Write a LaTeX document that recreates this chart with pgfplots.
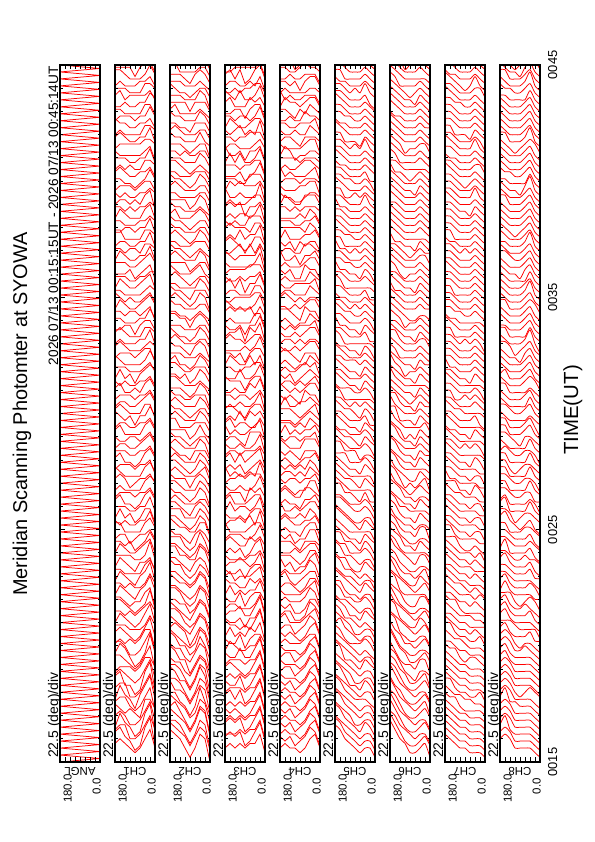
\documentclass[border=0pt]{standalone}
\usepackage{pgfplots}
\pgfplotsset{compat=1.18}
\usepackage{pgfplotstable}
\usepackage{fontspec}
\setmainfont{Liberation Sans}

\pgfplotsset{panel/.style={
  scale only axis, width=40bp, height=697bp, anchor=south west,
  xmin=0, xmax=180, x dir=reverse, ymin=15, ymax=45,
  xtick={0,22.5,45,67.5,90,112.5,135,157.5,180}, xticklabels={},
  ytick={15,25,35,45}, yticklabels={}, minor y tick num=9,
  tick align=inside, major tick length=4.5bp, minor tick length=2.5bp,
  every tick/.style={black, line width=0.9bp},
  axis line style={black, line width=1.6bp},
  axis on top, clip=true},
  tr/.style={red, line width=0.75bp, mark=none}}

% CH1
\pgfplotstableread[header=false]{
180   4 5 4 3 4  5 4 3 4 5  4 3 5 4 5  3 4 4 3 4  5 4 3 4 3  4 3 4 3 4  3 5 4 3 4  4 3 3 4 5  3 4 4 3 4  4 3 5 4 3  3 4 4 3 4  5 3 4 3 4  3 4 4 3 5  4 3 4 3 4  3 4 3 5 3  4 3 4 3 4  3 4 4 3 4  4 3 4 3 5  3 4 3 4 4  3 5 4 3 4
157.5 5 6 5 6 5  4 5 6 5 6  5 4 5 6 5  4 5 4 5 4  5 4 5 4 5  4 5 4 5 4  4 5 3 5 4  5 4 4 5 4  4 5 4 4 3  5 4 4 5 4  4 5 3 5 4  4 4 5 4 5  3 4 4 5 4  4 5 4 3 4  5 4 4 5 3  4 5 4 4 3  4 4 5 4 4  3 4 5 4 4  4 4 3 5 4  4 5 4 4 4
135   4 4 5 4 4  3 5 4 5 3  4 4 4 5 4  3 4 4 4 3  4 3 4 3 4  3 4 4 4 3  4 3 4 3 4  3 4 3 4 3  4 3 4 4 3  3 4 3 4 4  4 3 4 3 4  3 4 4 3 4  4 3 3 4 3  3 4 4 3 4  4 3 4 3 4  3 4 3 4 4  4 3 4 3 4  3 4 4 3 4  4 3 4 3 4  3 4 4 3 4
112.5 3 3 2 3 2  4 3 3 2 3  3 4 3 3 2  4 3 3 3 4  3 2 3 4 3  3 3 4 3 4  2 3 3 4 3  3 4 3 2 3  4 3 3 3 4  3 3 4 3 3  4 3 3 4 3  3 4 3 3 3  4 3 4 3 4  3 3 3 4 3  3 4 3 3 4  3 3 4 3 3  4 3 3 4 3  3 4 3 3 3  4 3 3 4 3  3 3 4 3 3
90    2 1 2 1 2  3 2 1 2 1  2 3 2 1 2  3 2 3 2 3  2 3 2 3 2  3 2 3 3 2  3 3 3 2 3  2 3 3 3 3  3 2 3 3 4  3 3 2 3 3  3 4 3 2 3  3 3 3 3 3  2 3 4 3 3  3 3 3 2 3  3 4 3 3 3  3 3 3 4 3  3 2 3 3 3  3 4 3 3 3  3 3 3 4 3  3 3 2 3 3
67.5  3 2 3 2 3  2 3 4 3 2  3 4 3 2 3  4 3 3 3 4  3 3 4 3 4  3 4 3 4 3  4 3 4 3 4  3 4 3 4 3  4 3 4 4 3  3 4 4 3 4  4 3 4 4 3  3 4 3 4 3  4 4 3 4 3  3 4 4 3 4  4 3 4 3 4  4 3 4 3 4  4 3 4 3 4  3 4 4 3 4  4 3 4 4 3  4 3 4 3 4
45    5 6 5 6 5  6 5 6 5 6  5 6 5 4 5  6 5 4 5 5  4 5 5 4 5  5 4 4 5 4  4 5 4 5 4  5 4 5 4 5  4 5 4 5 4  5 4 4 5 5  4 5 4 5 4  4 5 4 4 5  5 4 4 5 4  4 5 4 4 5  4 5 4 5 4  4 5 4 5 4  5 4 4 5 4  4 5 4 5 4  4 5 4 4 5  4 4 5 4 5
22.5  7 8 7 8 7  6 7 8 7 8  7 6 7 8 7  6 7 6 7 6  7 6 7 6 7  6 5 7 6 6  5 6 6 5 6  6 5 6 5 6  5 6 5 6 5  6 5 6 5 6  5 6 5 6 5  6 5 5 6 5  5 6 5 6 5  5 6 5 5 6  6 5 6 5 6  5 6 5 6 5  5 6 5 5 6  5 5 6 5 5  6 5 6 5 5  5 6 5 5 6
0     3 2 4 2 3  4 2 3 3 2  3 4 2 4 3  2 3 4 3 4  3 2 4 4 3  4 2 3 3 4  3 4 3 2 3  4 3 5 3 4  2 4 3 4 3  4 3 4 2 4  3 4 3 5 3  4 2 4 3 4  3 4 2 4 3  4 3 5 2 4  3 4 3 4 3  4 3 4 2 4  3 4 3 4 3  2 4 3 4 3  4 3 5 3 4  3 4 3 4 2
}\tA

% CH2
\pgfplotstableread[header=false]{
180   7 7 6 7 6  7 6 7 6 7  6 6 7 6 7  6 5 6 6 6  5 6 5 6 5  6 5 6 5 5  5 6 5 5 5  4 5 5 5 4  5 4 5 4 5  4 5 4 5 4  5 4 5 4 5  4 4 5 4 5  4 5 4 5 4  5 4 4 5 4  4 5 4 4 5  5 4 5 4 4  4 5 4 5 4  4 4 5 4 4  5 4 4 4 5  4 4 5 4 4
157.5 6 6 6 6 7  6 6 5 6 6  6 5 6 5 6  5 6 5 6 5  5 6 5 5 5  5 5 6 5 5  4 5 5 5 5  5 4 5 4 5  5 5 4 5 4  4 5 5 4 5  4 4 5 4 5  5 4 4 5 4  4 5 4 4 5  4 4 5 4 4  5 4 4 5 4  4 5 4 4 4  5 4 4 5 4  4 4 4 5 4  4 5 4 4 4  4 4 5 4 4
135   5 5 5 5 5  5 4 5 5 4  5 5 4 5 4  4 5 4 5 4  4 5 4 4 4  5 4 4 4 5  4 4 4 5 4  4 4 4 4 4  4 4 3 4 4  4 3 4 4 4  4 4 4 3 4  3 4 4 4 3  4 4 3 4 4  4 3 4 3 4  4 4 3 4 4  4 3 4 4 3  4 4 3 4 4  3 4 4 4 3  4 3 4 4 3  4 4 3 4 4
112.5 3 4 3 4 3  4 3 4 3 4  3 3 4 3 4  3 4 3 3 3  4 3 3 4 3  3 3 4 3 3  3 4 3 3 3  3 3 3 4 3  3 3 3 3 3  4 3 3 3 3  3 3 3 4 3  3 3 3 3 3  3 4 3 3 3  3 3 3 3 4  3 3 3 3 3  3 3 3 4 3  3 3 3 3 3  4 3 3 3 3  3 3 4 3 3  3 3 3 3 4
90    1 2 1 2 1  2 1 2 1 2  1 2 1 2 2  2 1 2 2 2  2 2 2 3 2  2 2 3 2 2  2 3 2 3 2  3 2 3 2 3  2 3 2 3 2  2 3 3 2 3  3 2 3 2 3  2 3 2 3 2  3 2 2 3 2  2 3 2 3 2  3 2 3 2 3  2 3 3 2 3  3 2 3 2 3  3 2 3 3 2  3 3 2 3 2  3 2 3 3 2
67.5  3 4 3 4 3  3 3 4 3 4  3 4 3 4 3  3 3 4 3 4  3 3 3 4 3  3 4 3 3 3  4 3 3 3 4  3 3 3 4 3  3 3 4 3 3  3 4 3 3 3  4 3 3 3 4  3 3 4 3 3  3 4 3 3 3  4 3 3 4 3  3 3 4 3 3  3 4 3 3 3  3 3 4 3 3  3 3 3 3 4  3 3 4 3 3  3 4 3 3 3
45    6 6 6 7 6  6 7 6 6 7  6 6 5 6 6  6 5 6 5 6  5 6 5 6 5  5 5 6 5 6  5 5 5 5 5  4 5 5 5 4  5 5 4 5 4  5 4 5 4 5  4 5 4 5 4  5 4 5 4 5  4 5 4 4 5  4 5 4 5 4  5 4 4 5 4  4 5 4 5 4  4 5 4 4 5  4 4 5 4 4  5 4 4 5 4  4 5 4 4 4
22.5  5 5 5 6 5  5 4 5 5 5  5 5 4 5 4  5 4 5 4 5  4 5 4 5 4  4 4 5 4 4  4 5 4 4 4  4 4 4 4 5  4 4 4 4 4  3 4 4 4 4  4 4 3 4 4  4 3 4 4 4  4 4 3 4 4  4 4 4 3 4  4 3 4 4 4  4 4 3 4 4  4 4 4 3 4  4 4 3 4 4  4 3 4 4 4  3 4 4 4 4
0     0 1 0 1 0  1 1 0 1 0  0 1 1 0 1  1 1 1 1 2  1 1 2 1 1  2 1 2 2 1  2 2 1 2 2  2 1 2 2 2  2 2 2 1 2  2 2 2 2 2  1 2 2 2 2  2 2 1 2 2  2 2 2 2 1  2 2 2 2 2  1 2 2 2 2  2 2 2 1 2  2 2 2 2 2  2 1 2 2 2  2 2 2 1 2  2 2 2 2 2
}\tB

% CH3
\pgfplotstableread[header=false]{
180   3 4 3 4 3  4 3 4 3 4  3 4 3 4 3  4 3 5 4 3  3 4 3 5 4  4 3 4 3 4  3 5 3 4 3  4 3 4 3 5  3 4 3 4 3  5 4 3 4 3  4 3 5 3 4  3 4 3 4 3  4 3 4 5 3  3 4 4 3 4  5 3 4 3 4  4 3 4 3 5  3 4 3 4 3  5 3 4 4 3  4 3 4 5 3  3 4 3 4 3
157.5 4 5 3 5 4  3 4 5 4 3  4 5 4 3 5  3 5 4 3 4  4 3 5 4 5  3 4 3 4 5  4 3 4 3 5  5 4 3 4 3  4 5 4 3 4  3 5 4 5 3  4 3 4 3 4  5 4 3 5 4  3 4 5 4 3  4 5 3 4 3  4 3 5 4 5  3 4 5 4 3  5 4 3 4 5  3 4 4 3 5  4 3 5 4 3  4 5 3 4 4
135   3 4 3 4 3  4 3 3 4 3  3 4 4 3 4  3 3 4 3 4  4 3 3 4 3  3 4 3 3 4  4 3 4 3 3  3 4 3 4 4  3 3 4 3 4  4 3 3 4 3  3 4 4 3 3  4 3 3 4 4  3 3 4 3 4  4 3 3 4 3  3 4 4 3 4  4 3 4 3 3  4 4 3 4 3  3 4 3 4 4  3 4 3 3 4  4 3 4 4 3
112.5 4 5 4 5 4  3 4 5 4 5  4 3 4 5 3  5 4 3 4 5  3 5 4 3 4  4 5 3 4 3  4 3 5 3 4  3 4 4 5 3  4 5 3 4 3  3 4 5 3 4  4 3 4 5 3  3 4 3 4 5  4 3 5 3 4  3 5 4 4 3  4 5 3 5 4  3 4 5 3 4  5 3 4 3 5  4 3 4 5 3  4 4 3 5 3  3 5 4 3 4
90    3 2 3 2 3  2 3 2 3 2  3 2 3 3 3  2 3 4 2 3  3 2 3 3 4  2 4 3 2 3  3 3 4 2 4  3 2 3 4 3  2 3 4 3 2  3 4 3 2 3  4 3 2 3 4  3 2 4 3 2  2 3 4 3 4  3 2 3 4 3  4 3 2 3 4  3 4 2 3 3  4 3 2 4 3  2 3 4 3 3  4 2 3 3 4  3 2 4 3 3
67.5  4 3 4 3 4  3 4 3 4 3  4 3 4 3 4  4 5 3 4 3  3 4 4 5 4  4 3 4 3 5  3 4 5 4 3  4 5 3 5 4  3 4 4 3 5  4 3 5 4 3  3 5 4 3 4  5 4 3 4 5  4 3 5 3 4  3 4 4 5 3  4 5 3 4 3  5 3 4 4 3  4 5 3 4 3  4 3 5 4 4  3 4 5 3 4  4 3 4 5 3
45    4 5 4 5 4  5 4 5 4 5  4 5 4 5 4  5 4 5 4 5  4 5 4 4 5  5 4 4 5 4  4 5 3 5 4  5 4 4 5 3  4 5 4 4 5  5 3 4 5 4  4 4 5 4 5  3 5 4 5 4  4 5 3 4 5  5 4 4 5 4  4 3 5 4 5  5 4 4 5 3  4 5 4 5 4  4 4 5 3 5  4 5 4 4 5  3 5 4 4 5
22.5  6 7 6 7 6  7 6 7 6 7  6 7 6 7 6  5 6 7 6 7  6 5 6 5 6  5 6 5 6 5  6 5 6 5 6  5 5 6 5 6  5 6 5 6 5  6 5 5 5 6  5 6 5 6 5  5 5 6 5 6  6 5 5 6 5  5 6 5 5 6  6 5 5 6 5  5 6 5 5 6  5 5 6 5 6  5 5 5 6 5  6 5 5 6 5  5 6 5 5 5
0     2 3 2 3 2  3 2 3 2 3  2 3 2 3 2  3 2 3 2 3  2 3 3 3 2  3 2 3 2 3  3 3 2 3 2  2 3 3 3 3  3 2 3 2 3  2 3 3 3 2  3 3 2 3 3  2 3 3 3 2  3 2 3 3 3  3 3 2 3 2  2 3 3 2 3  3 2 3 3 2  3 3 3 2 3  2 3 3 2 3  3 2 3 3 3  2 3 2 3 3
}\tC

% CH4
\pgfplotstableread[header=false]{
180   3 4 3 4 3  4 3 4 3 4  4 3 4 3 4  3 4 3 4 3  4 3 4 3 4  3 5 4 3 4  4 3 4 3 5  3 4 3 4 3  4 3 4 5 4  3 4 3 4 3  4 5 3 4 3  3 4 4 3 4  4 3 5 3 4  3 4 3 4 3  5 3 4 3 4  4 3 4 3 4  4 3 5 3 4  3 4 3 4 4  3 4 3 5 3  4 3 4 4 3
157.5 4 3 4 3 4  3 4 3 4 3  3 4 3 4 3  4 3 4 5 4  3 4 3 4 5  4 3 4 3 4  3 4 5 4 3  4 5 4 3 4  3 4 3 4 3  5 4 3 4 5  3 4 4 3 4  4 5 3 4 3  3 4 5 3 5  4 3 4 3 4  3 4 3 5 4  4 3 4 5 3  3 4 3 4 4  5 3 4 3 4  3 4 5 3 4  4 3 4 3 5
135   3 4 3 4 3  4 3 4 3 4  3 4 3 4 3  3 4 4 3 4  4 3 3 4 3  3 4 4 3 4  4 3 4 3 3  3 4 3 4 4  4 3 4 3 4  3 4 3 4 3  4 3 4 4 3  3 4 3 4 3  4 3 4 3 4  4 3 3 4 3  3 4 4 3 4  4 3 3 4 3  3 4 4 3 4  4 3 4 3 3  4 3 4 4 3  3 4 3 4 4
112.5 3 2 3 2 3  2 3 2 3 2  3 2 3 2 3  3 3 2 3 2  2 3 3 3 2  3 2 3 4 3  2 3 3 3 4  3 3 2 4 3  3 2 3 3 4  4 3 2 3 3  3 4 3 2 3  2 3 4 3 4  3 2 3 4 3  3 4 3 2 3  4 3 2 3 4  3 3 4 3 2  3 4 3 3 4  2 3 3 4 3  3 2 4 3 3  4 3 3 2 3
90    2 3 2 3 2  3 2 3 2 3  2 3 2 3 2  3 2 3 3 2  2 3 3 2 3  3 3 2 3 2  3 2 3 4 3  2 3 3 3 4  4 3 2 3 3  3 4 3 2 4  2 3 4 3 4  3 2 3 4 3  4 3 2 3 4  3 4 3 2 3  2 3 4 3 4  3 4 3 3 2  4 3 3 4 3  3 3 2 3 4  3 4 3 3 3  2 3 4 3 3
67.5  3 4 3 4 3  4 3 4 3 4  3 4 3 4 3  4 3 4 4 3  3 4 4 3 4  4 3 3 4 4  3 4 4 3 4  4 5 3 4 3  3 4 4 5 4  4 3 4 3 4  5 4 3 4 5  3 4 4 3 4  4 3 5 4 3  3 4 3 5 4  4 5 3 4 3  4 3 4 5 3  4 4 3 5 4  3 4 4 3 4  5 3 4 4 3  4 4 5 3 4
45    5 6 5 6 5  6 5 6 5 6  5 6 5 6 5  5 5 6 5 6  5 6 5 5 5  6 5 5 5 4  5 5 4 5 5  4 5 5 4 5  5 4 4 5 4  4 5 5 4 5  4 5 4 5 4  5 4 5 4 5  4 5 4 5 4  5 4 5 4 5  4 5 4 4 5  4 5 4 5 4  5 4 4 5 4  4 5 4 5 4  4 5 5 4 4  5 4 4 5 4
22.5  6 5 6 5 6  5 6 5 6 5  6 5 6 5 6  5 6 5 6 5  5 5 6 5 5  5 6 5 5 4  5 5 5 4 5  5 4 5 5 4  4 5 4 5 5  5 4 4 5 4  4 5 5 4 5  4 4 5 4 5  5 4 4 5 4  4 5 4 4 5  5 4 4 5 4  5 4 4 5 4  5 4 5 4 4  4 5 4 4 5  4 4 5 4 4  5 4 4 4 5
0     3 2 3 2 3  2 3 2 3 2  3 2 3 2 3  2 3 2 3 3  3 2 2 3 2  2 3 3 3 3  2 2 3 2 3  3 3 2 3 3  2 3 2 3 2  3 3 3 2 3  2 3 3 3 2  3 2 3 3 3  2 3 2 3 3  3 2 3 2 3  3 3 2 3 2  3 2 3 3 3  2 3 2 3 3  3 2 3 3 2  3 3 3 2 3  3 2 3 3 2
}\tD

% CH5
\pgfplotstableread[header=false]{
180   8 8 7 8 7  8 7 8 7 8  7 7 8 7 7  7 6 7 7 7  6 7 6 7 6  7 6 7 6 6  6 6 7 6 6  5 6 6 6 6  6 5 6 6 6  5 6 5 6 5  6 5 6 5 6  5 6 5 6 5  6 5 6 5 5  5 6 5 6 5  5 6 5 5 6  5 5 6 5 5  6 5 5 5 6  5 5 5 6 5  5 5 6 5 5  5 5 5 6 5
157.5 7 7 6 7 6  7 6 7 6 7  6 6 7 6 6  6 7 6 6 6  5 6 6 6 5  6 5 6 5 6  5 5 6 5 6  5 6 5 5 5  5 5 6 5 5  4 5 5 5 5  5 4 5 5 5  5 5 4 5 5  4 5 5 5 4  5 5 5 4 5  5 4 5 5 5  5 5 4 5 5  5 5 5 4 5  5 5 5 5 4  5 5 5 5 5  4 5 5 5 5
135   5 5 5 5 5  5 5 5 5 5  5 5 4 5 5  4 5 5 4 5  5 4 4 5 4  4 5 4 5 4  4 4 5 4 5  4 4 4 4 4  4 5 4 4 4  4 4 4 4 4  3 4 4 4 4  4 4 4 3 4  4 4 4 4 4  4 3 4 4 4  4 4 3 4 4  4 4 4 4 3  4 4 4 4 4  4 4 3 4 4  4 4 4 4 4  4 3 4 4 4
112.5 4 4 4 4 4  4 4 4 4 3  4 4 4 4 4  3 4 4 4 3  4 4 3 4 4  4 3 4 3 4  3 3 4 3 4  3 4 3 4 3  3 3 4 3 4  3 3 3 4 3  3 4 3 3 3  4 3 3 3 3  3 3 4 3 3  3 3 3 3 4  3 3 3 4 3  3 3 3 3 3  3 4 3 3 3  3 3 3 3 3  4 3 3 3 3  3 3 3 3 4
90    3 3 3 3 2  3 3 3 3 3  2 3 3 3 3  3 3 2 3 3  3 3 3 3 3  3 2 3 3 3  3 3 3 2 3  3 3 3 3 3  3 3 4 3 3  3 3 3 3 4  3 3 3 3 3  4 3 3 3 3  3 3 3 4 3  3 3 3 3 3  3 4 3 3 3  3 3 3 3 4  3 3 3 3 3  3 4 3 3 3  3 3 3 3 4  3 3 3 3 3
67.5  2 2 2 2 2  2 2 3 2 2  2 2 2 2 2  3 2 2 2 2  2 3 2 2 2  2 2 2 3 2  2 3 2 2 3  3 2 3 2 3  2 3 2 3 2  3 2 3 2 3  3 3 2 3 2  3 3 2 3 3  2 3 3 3 3  3 3 3 2 3  3 3 3 3 3  3 3 3 3 3  3 3 3 3 3  3 3 2 3 3  3 3 3 3 3  3 3 3 3 3
45    3 3 3 4 3  3 3 3 3 4  3 3 4 3 3  4 3 3 3 4  3 4 3 4 3  3 4 3 4 4  4 3 4 3 4  4 4 3 4 3  4 4 3 4 4  4 4 4 4 4  3 4 4 4 4  4 4 4 3 4  4 4 4 4 4  4 3 4 4 4  4 4 4 4 4  4 4 4 5 4  4 4 4 4 4  4 5 4 4 4  4 4 4 4 5  4 4 4 4 4
22.5  3 3 3 3 3  3 3 2 3 3  3 3 3 3 2  3 3 3 2 3  3 3 3 3 3  2 3 3 3 3  3 3 3 3 3  3 2 3 3 3  3 3 3 3 3  3 3 2 3 3  3 3 3 3 3  3 3 3 3 2  3 3 3 3 3  2 3 3 3 3  3 3 3 3 3  3 3 3 3 3  3 3 2 3 3  3 3 3 3 3  3 3 3 2 3  3 3 3 3 3
0     1 1 1 1 1  1 1 1 1 1  1 1 2 1 1  1 1 1 1 2  1 1 1 2 1  1 2 1 1 1  2 1 2 1 1  1 2 1 2 1  2 1 2 1 2  1 2 2 1 2  2 1 2 2 2  2 2 1 2 2  2 1 2 2 2  2 2 2 1 2  2 2 2 2 2  2 2 2 2 2  2 1 2 2 2  2 2 2 2 2  2 2 2 1 2  2 2 2 2 2
}\tE

% CH6
\pgfplotstableread[header=false]{
180   9 9 8 9 9  8 9 8 9 8  8 8 8 9 8  8 8 7 8 8  8 7 8 7 8  7 7 8 7 7  7 7 7 7 7  6 7 7 7 7  7 6 7 6 7  6 7 6 7 6  6 6 7 6 7  6 6 6 6 6  5 6 6 6 6  6 6 5 6 6  6 5 6 6 6  6 6 5 6 6  6 6 6 5 6  6 6 6 6 6  5 6 6 6 6  6 6 5 6 6
157.5 7 7 7 7 7  7 7 6 7 7  7 7 6 7 6  6 7 6 7 6  6 6 7 6 6  6 6 6 6 6  6 6 5 6 6  5 6 5 6 5  6 5 6 5 6  5 5 6 5 6  5 5 5 5 5  5 5 5 6 5  5 5 5 5 5  4 5 5 5 5  5 5 4 5 5  5 5 5 5 5  5 5 4 5 5  5 5 5 5 5  4 5 5 5 5  5 5 5 4 5
135   5 5 5 5 5  5 5 5 5 5  5 5 4 5 4  5 4 5 4 5  4 5 4 5 4  4 4 5 4 5  4 4 4 4 4  4 5 4 4 4  4 4 4 4 4  4 4 3 4 4  4 4 4 4 4  4 3 4 4 4  4 4 4 4 4  4 4 4 3 4  4 4 4 4 4  4 4 4 4 4  4 4 4 4 3  4 4 4 4 4  4 4 4 4 4  3 4 4 4 4
112.5 4 3 4 3 4  3 4 3 4 3  4 3 3 4 3  3 3 4 3 4  3 3 3 4 3  3 3 4 3 3  3 3 3 3 4  3 3 3 2 3  3 3 3 3 3  2 3 3 3 3  3 3 3 3 2  3 3 3 3 3  3 2 3 3 3  3 3 3 2 3  3 3 3 3 3  3 3 3 3 3  3 3 3 3 3  3 2 3 3 3  3 3 3 3 3  3 3 3 2 3
90    2 2 3 2 3  2 3 2 3 2  2 2 3 2 2  3 2 3 2 3  2 2 3 3 2  3 2 3 3 3  2 3 3 3 3  3 3 2 3 2  3 3 3 3 3  3 3 3 3 3  2 3 3 3 3  3 3 3 3 3  3 3 2 3 3  3 3 3 3 3  3 2 3 3 3  3 3 3 3 3  3 3 2 3 3  3 3 3 3 3  3 3 3 3 2  3 3 3 3 3
67.5  2 2 2 2 2  2 2 2 2 2  2 1 2 2 2  2 2 2 2 2  2 2 3 2 2  2 2 2 3 2  2 2 2 2 3  2 2 3 2 2  3 2 2 3 2  2 3 2 3 2  3 2 3 2 3  2 3 3 3 2  3 3 2 3 3  3 2 3 3 3  3 3 2 3 3  3 3 3 3 3  2 3 3 3 3  3 3 3 3 3  3 3 3 2 3  3 3 3 3 3
45    3 3 3 3 3  3 3 3 3 3  3 3 4 3 3  3 3 3 4 3  3 4 3 3 4  3 3 4 3 4  3 4 3 4 3  4 3 4 3 4  3 4 4 4 4  4 3 4 4 4  4 4 3 4 4  4 4 4 4 4  4 4 3 4 4  4 4 4 4 4  4 4 4 3 4  4 4 4 4 4  4 4 4 3 4  4 4 4 4 4  4 4 4 4 4  4 3 4 4 4
22.5  4 4 3 4 3  4 4 4 3 4  4 3 4 4 3  4 3 4 3 4  3 4 3 4 3  4 3 4 3 3  3 4 3 3 3  3 3 3 4 3  3 3 3 3 3  3 4 3 3 3  3 3 3 3 3  3 3 3 4 3  3 3 3 3 3  3 3 3 3 3  4 3 3 3 3  3 3 3 3 3  3 3 3 3 3  3 4 3 3 3  3 3 3 3 3  3 3 3 3 4
0     1 2 1 2 1  2 1 2 1 2  1 2 1 2 2  2 1 2 1 2  2 2 1 2 2  1 2 2 2 2  2 1 2 2 2  2 2 2 1 2  2 2 3 2 2  2 2 2 2 3  2 2 2 2 2  3 2 2 2 2  2 2 2 3 2  2 2 2 2 2  2 3 2 2 2  2 2 2 2 2  2 2 2 2 2  2 2 2 2 3  2 2 2 2 2  2 2 2 2 2
}\tF

% CH7
\pgfplotstableread[header=false]{
180   6 6 6 6 6  6 6 6 6 6  6 6 6 6 5  6 6 6 5 6  6 5 6 6 6  5 6 6 6 5  6 6 5 6 6  5 6 5 6 5  6 5 6 5 6  5 6 5 6 5  5 5 6 5 6  5 5 5 5 5  6 5 5 5 5  5 5 5 6 5  5 5 5 5 5  5 5 5 6 5  5 5 6 5 5  5 6 5 5 5  5 5 5 6 5  6 5 5 5 5
157.5 5 5 5 5 5  5 5 5 6 5  5 5 5 5 5  5 6 5 5 5  5 5 5 5 5  5 5 5 5 5  6 5 5 5 5  5 5 5 4 5  5 5 5 5 5  4 5 5 5 5  5 5 5 5 4  5 5 5 5 5  5 4 5 5 5  5 5 5 5 5  5 5 4 5 5  5 5 5 5 5  5 5 5 5 4  5 5 5 5 5  5 5 5 5 5  5 4 5 5 5
135   4 4 4 4 4  4 5 4 4 4  4 4 4 5 4  4 4 4 4 4  5 4 4 4 4  4 4 4 4 5  4 4 4 4 4  4 4 5 4 4  4 4 4 4 4  4 4 4 4 4  3 4 4 4 4  4 4 4 4 3  4 4 4 4 4  3 4 4 4 4  4 4 4 3 4  4 4 4 4 4  4 4 4 4 4  4 4 4 3 4  4 4 4 4 4  4 4 4 4 4
112.5 3 3 3 3 3  3 3 4 3 3  3 3 3 3 3  4 3 3 3 3  3 3 3 4 3  3 3 3 3 3  3 3 3 3 3  3 4 3 3 3  3 3 3 3 3  3 3 3 4 3  3 3 3 3 3  3 3 3 3 3  3 3 4 3 3  3 3 3 3 3  3 3 3 3 3  3 3 3 3 3  3 3 3 3 3  3 3 3 3 3  3 3 4 3 3  3 3 3 3 3
90    3 3 3 3 3  3 2 3 3 3  3 3 3 2 3  3 3 3 3 3  2 3 3 3 3  3 3 3 3 2  3 3 3 3 3  3 3 3 3 3  3 3 3 4 3  3 3 3 3 3  4 3 3 3 3  3 3 3 4 3  3 3 3 3 3  3 3 3 3 3  3 4 3 3 3  3 3 3 3 3  3 2 3 3 3  3 3 3 3 3  3 3 3 3 3  2 3 3 3 3
67.5  2 2 2 2 2  2 2 3 2 2  2 2 2 3 2  2 2 2 2 3  2 2 3 2 2  2 3 2 3 2  3 2 3 2 3  2 3 2 3 2  3 2 3 3 3  2 3 3 3 3  3 3 3 2 3  3 3 3 3 3  3 3 3 3 3  3 3 3 3 3  3 3 3 3 3  3 3 2 3 3  3 3 3 3 3  3 3 3 2 3  3 3 3 3 3  3 3 3 3 2
45    2 2 2 2 2  2 2 2 2 2  2 2 2 3 2  2 2 3 2 2  2 3 2 3 2  3 2 3 2 3  3 3 3 3 3  3 3 4 3 3  3 4 3 4 3  4 3 4 3 4  4 4 3 4 4  4 4 4 4 4  4 3 4 4 4  4 4 4 4 4  4 4 4 4 4  4 4 4 4 5  4 4 4 4 4  4 5 4 4 4  4 4 4 4 4  5 4 4 4 4
22.5  2 2 2 2 2  2 2 2 3 2  2 2 2 2 2  2 3 2 2 2  2 2 3 2 2  2 2 2 3 2  2 3 2 3 2  3 2 3 2 3  2 3 3 3 3  3 3 2 3 3  3 3 3 3 3  3 3 3 3 3  3 3 3 3 3  3 3 3 3 3  3 3 3 3 3  3 3 3 3 3  3 3 3 4 3  3 3 3 3 3  3 3 3 3 4  3 3 3 3 3
0     1 1 1 1 1  1 1 1 1 1  1 1 1 1 1  1 1 1 2 1  1 1 2 1 1  1 2 1 1 1  2 1 2 1 2  1 2 1 2 1  2 1 2 1 2  2 2 1 2 2  2 1 2 2 2  2 2 2 1 2  2 2 2 2 2  2 2 2 2 2  2 2 2 2 2  2 2 2 2 2  2 2 2 2 2  2 2 1 2 2  2 2 2 2 2  2 2 2 2 2
}\tG

% CH8
\pgfplotstableread[header=false]{
180   5 5 5 5 5  5 5 5 5 5  5 5 5 5 5  5 5 5 5 5  5 5 4 5 5  5 5 5 4 5  5 5 5 5 5  4 5 5 5 5  5 5 4 5 5  5 5 5 5 5  5 5 5 4 5  5 5 5 5 5  4 5 5 5 5  5 5 5 5 5  5 5 4 5 5  5 5 5 5 5  5 4 5 5 5  5 5 5 5 5  5 5 5 4 5  5 5 5 5 5
157.5 6 6 7 6 6  6 7 6 6 6  6 6 6 6 6  6 6 5 6 6  6 5 6 6 5  5 6 5 6 5  5 5 6 5 6  5 5 5 5 5  5 5 5 4 5  5 5 4 5 4  4 5 4 5 4  4 4 5 4 5  4 4 4 5 4  4 4 4 4 4  5 4 4 4 4  4 4 4 5 4  4 4 4 4 4  4 4 5 4 4  4 4 4 4 4  4 5 4 4 4
135   5 5 4 5 5  5 4 5 5 5  5 5 4 4 5  5 4 5 4 4  4 5 4 4 4  4 4 4 3 4  4 3 4 4 3  3 4 3 4 3  3 3 4 3 4  3 3 3 4 3  3 3 3 3 3  3 3 4 3 3  3 3 3 3 3  3 3 3 3 3  4 3 3 3 3  3 3 3 3 3  3 3 4 3 3  3 3 3 3 3  3 3 3 3 4  3 3 3 3 3
112.5 3 3 3 3 3  3 4 3 3 3  3 3 3 3 3  3 3 4 3 3  3 3 3 3 3  3 3 3 3 3  3 3 3 2 3  3 3 3 3 3  2 3 3 3 3  3 3 3 3 3  3 3 3 3 3  3 3 2 3 3  3 3 3 3 3  3 3 3 3 3  3 3 3 3 2  3 3 3 3 3  3 3 3 3 3  3 2 3 3 3  3 3 3 3 3  3 3 3 2 3
90    3 3 3 3 3  3 3 3 2 3  3 3 3 3 3  2 3 3 3 3  3 2 3 3 3  3 3 3 3 3  3 3 2 3 3  3 3 3 3 3  3 3 3 3 2  3 3 3 3 3  3 3 3 3 3  3 2 3 3 3  3 3 3 3 3  3 3 3 2 3  3 3 3 3 3  3 3 3 3 3  2 3 3 3 3  3 3 3 3 3  3 3 3 3 3  3 3 2 3 3
67.5  3 3 3 3 3  3 3 3 3 3  3 3 3 3 4  3 3 3 3 3  4 3 3 3 3  3 3 4 3 3  3 4 3 4 3  3 4 3 4 3  4 3 4 3 4  4 4 3 4 3  4 3 4 4 4  4 4 4 4 3  4 4 4 4 4  4 4 3 4 4  4 4 4 4 4  4 4 4 4 4  4 3 4 4 4  4 4 4 4 4  4 4 4 3 4  4 4 4 4 4
45    3 3 3 3 3  3 3 3 4 3  3 3 3 3 3  3 4 3 3 4  3 4 3 4 3  4 4 3 4 4  4 4 4 4 5  4 4 5 4 5  4 5 4 5 4  5 5 4 5 5  5 4 5 5 5  5 5 5 6 5  5 5 5 5 5  6 5 5 5 5  5 5 6 5 5  5 5 5 5 5  6 5 5 5 5  5 5 6 5 5  5 5 5 5 5  6 5 5 5 5
22.5  2 2 2 2 2  2 2 2 3 2  2 2 2 2 2  2 2 3 2 2  2 3 2 3 2  2 2 3 2 3  2 3 2 3 3  3 2 3 3 3  3 3 3 3 3  3 3 3 3 3  3 3 4 3 3  3 3 3 3 3  3 3 3 4 3  3 3 3 3 3  3 3 3 3 3  3 3 3 3 3  3 3 3 3 3  3 4 3 3 3  3 3 3 3 3  3 3 3 4 3
0     1 1 1 1 1  1 1 1 2 1  1 1 1 1 1  1 2 1 1 1  1 1 2 1 1  2 1 2 1 2  1 2 1 2 2  1 2 2 1 2  2 2 1 2 2  2 1 2 2 2  2 2 2 2 2  2 2 2 1 2  2 2 2 2 2  2 2 2 2 2  2 2 2 2 2  2 2 2 2 2  2 2 2 2 2  2 2 2 2 2  2 2 2 2 2  2 2 2 2 2
}\tH

\newcommand\chpanel[3]{%
  \begin{axis}[panel, at={(#1bp,80bp)}]
  \pgfplotsinvokeforeach{1,...,100}{%
    \addplot[tr,#3] table[x index=0, y expr={14.7+0.3*##1+0.2*\thisrowno{##1}}]{#2};}
  \end{axis}}

\begin{document}
\begin{tikzpicture}[x=1bp,y=1bp]
\path[use as bounding box] (0,0) rectangle (595,842);

% ANGL panel
\begin{axis}[panel, at={(60bp,80bp)}]
\addplot[tr] coordinates {
(180,15.0)(0,15.15)(180,15.3)(0,15.45)(180,15.6)(0,15.75)(180,15.9)(0,16.05)(180,16.2)(0,16.35)(180,16.5)(0,16.65)(180,16.8)(0,16.95)(180,17.1)(0,17.25)(180,17.4)(0,17.55)(180,17.7)(0,17.85)
(180,18.0)(0,18.15)(180,18.3)(0,18.45)(180,18.6)(0,18.75)(180,18.9)(0,19.05)(180,19.2)(0,19.35)(180,19.5)(0,19.65)(180,19.8)(0,19.95)(180,20.1)(0,20.25)(180,20.4)(0,20.55)(180,20.7)(0,20.85)
(180,21.0)(0,21.15)(180,21.3)(0,21.45)(180,21.6)(0,21.75)(180,21.9)(0,22.05)(180,22.2)(0,22.35)(180,22.5)(0,22.65)(180,22.8)(0,22.95)(180,23.1)(0,23.25)(180,23.4)(0,23.55)(180,23.7)(0,23.85)
(180,24.0)(0,24.15)(180,24.3)(0,24.45)(180,24.6)(0,24.75)(180,24.9)(0,25.05)(180,25.2)(0,25.35)(180,25.5)(0,25.65)(180,25.8)(0,25.95)(180,26.1)(0,26.25)(180,26.4)(0,26.55)(180,26.7)(0,26.85)
(180,27.0)(0,27.15)(180,27.3)(0,27.45)(180,27.6)(0,27.75)(180,27.9)(0,28.05)(180,28.2)(0,28.35)(180,28.5)(0,28.65)(180,28.8)(0,28.95)(180,29.1)(0,29.25)(180,29.4)(0,29.55)(180,29.7)(0,29.85)
(180,30.0)(0,30.15)(180,30.3)(0,30.45)(180,30.6)(0,30.75)(180,30.9)(0,31.05)(180,31.2)(0,31.35)(180,31.5)(0,31.65)(180,31.8)(0,31.95)(180,32.1)(0,32.25)(180,32.4)(0,32.55)(180,32.7)(0,32.85)
(180,33.0)(0,33.15)(180,33.3)(0,33.45)(180,33.6)(0,33.75)(180,33.9)(0,34.05)(180,34.2)(0,34.35)(180,34.5)(0,34.65)(180,34.8)(0,34.95)(180,35.1)(0,35.25)(180,35.4)(0,35.55)(180,35.7)(0,35.85)
(180,36.0)(0,36.15)(180,36.3)(0,36.45)(180,36.6)(0,36.75)(180,36.9)(0,37.05)(180,37.2)(0,37.35)(180,37.5)(0,37.65)(180,37.8)(0,37.95)(180,38.1)(0,38.25)(180,38.4)(0,38.55)(180,38.7)(0,38.85)
(180,39.0)(0,39.15)(180,39.3)(0,39.45)(180,39.6)(0,39.75)(180,39.9)(0,40.05)(180,40.2)(0,40.35)(180,40.5)(0,40.65)(180,40.8)(0,40.95)(180,41.1)(0,41.25)(180,41.4)(0,41.55)(180,41.7)(0,41.85)
(180,42.0)(0,42.15)(180,42.3)(0,42.45)(180,42.6)(0,42.75)(180,42.9)(0,43.05)(180,43.2)(0,43.35)(180,43.5)(0,43.65)(180,43.8)(0,43.95)(180,44.1)(0,44.25)(180,44.4)(0,44.55)(180,44.7)(0,44.85)
(180,45.0)};
\end{axis}

\chpanel{115}{\tA}{}
\chpanel{170}{\tB}{}
\chpanel{225}{\tC}{}
\chpanel{280}{\tD}{}
\chpanel{335}{\tE}{smooth, tension=0.4}
\chpanel{390}{\tF}{smooth, tension=0.4}
\chpanel{445}{\tG}{smooth, tension=0.4}
\chpanel{500}{\tH}{smooth, tension=0.4}

% labels per column
\foreach \L/\N in {60/ANGL,115/CH1,170/CH2,225/CH3,280/CH4,335/CH5,390/CH6,445/CH7,500/CH8}{
  \node[rotate=90, anchor=base west, inner sep=0pt, font=\fontsize{14}{16}\selectfont] at (\L-1.8,84) {22.5 (deg)/div};
  \node[rotate=180, inner sep=0pt, font=\fontsize{11.5}{13}\selectfont] at (\L+20,71) {\N};
  \node[rotate=90, anchor=base east, inner sep=0pt, font=\fontsize{11.5}{13}\selectfont] at (\L+11.7,68) {180.0};
  \node[rotate=90, anchor=base east, inner sep=0pt, font=\fontsize{11.5}{13}\selectfont] at (\L+40.5,64) {0.0};
}

% time labels
\foreach \Y/\T in {80/0015,312.33/0025,544.67/0035,777/0045}{
  \node[rotate=90, anchor=base, inner sep=0pt, font=\fontsize{13}{15}\selectfont] at (557,\Y) {\T};
}
\node[rotate=90, anchor=base, inner sep=0pt, font=\fontsize{20.5}{24}\selectfont] at (578,432) {TIME(UT)};

% titles
\node[rotate=90, anchor=base, inner sep=0pt, font=\fontsize{20}{24}\selectfont] at (27,428) {Meridian Scanning Photomter at SYOWA};
\node[rotate=90, anchor=base east, inner sep=0pt, font=\fontsize{13.7}{16}\selectfont] at (58,776) {2026 07/13 00:15:15UT - 2026 07/13 00:45:14UT};
\end{tikzpicture}
\end{document}
